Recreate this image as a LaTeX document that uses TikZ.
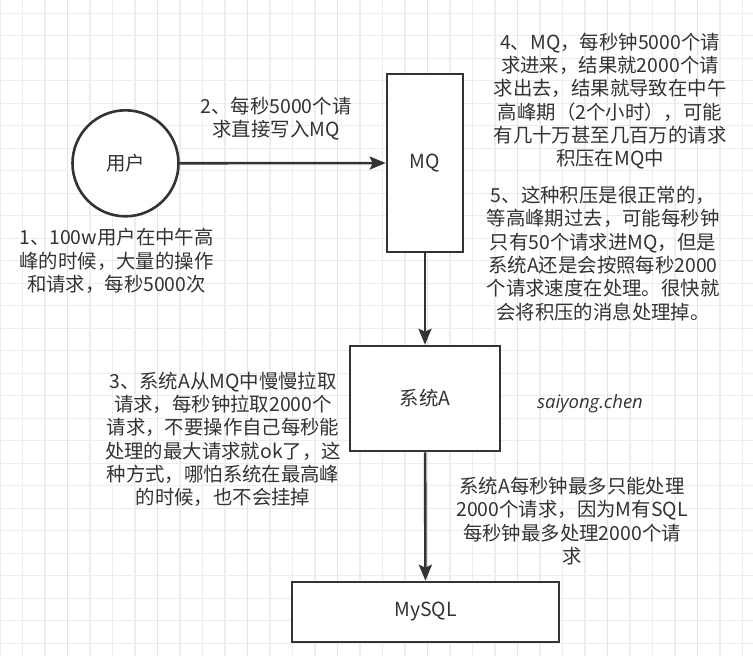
\documentclass[tikz,border=0pt]{standalone}
\usepackage{fontspec}
\setmainfont{Noto Sans CJK SC}
\newfontfamily\sigfont{Open Sans}
\usetikzlibrary{arrows.meta}
\definecolor{ink}{HTML}{333333}
\definecolor{gridc}{HTML}{EDEDED}
\definecolor{gridm}{HTML}{E4E4E4}
\tikzset{
  gridline/.style={draw=gridc, line width=1.2pt},
  gridmajor/.style={draw=gridm, line width=1.3pt},
  shapebox/.style={draw=ink, line width=2.6pt, fill=white, inner sep=0pt, text=ink,
    font=\fontsize{19.4}{23.3}\selectfont},
  flow/.style={draw=ink, line width=2.6pt, -{Stealth[length=16pt,width=13pt,inset=3pt]}},
  note/.style={inner sep=0pt, align=center, text=ink, font=\fontsize{19.4}{23.3}\selectfont},
}
\begin{document}
\begin{tikzpicture}[x=1pt,y=-1pt]
\useasboundingbox (0,0) rectangle (753,656);
\fill[white] (0,0) rectangle (753,656);
% grid
\foreach \i in {0,...,33} {\draw[gridline] (\i*22.5,0) -- (\i*22.5,656);}
\foreach \j in {0,...,28} {\draw[gridline] (0,13.3+\j*22.5) -- (753,13.3+\j*22.5);}
\foreach \i in {0,...,7} {\draw[gridmajor] (67.5+\i*90,0) -- (67.5+\i*90,656);}
% shapes
\node[shapebox, circle, minimum size=106pt] (user) at (125.5,163.3) {用户};
\node[shapebox, rectangle, minimum width=76pt, minimum height=178pt] (mq) at (425,163) {MQ};
\node[shapebox, rectangle, minimum width=150pt, minimum height=105pt] (sysa) at (425,398.5) {系统A};
\node[shapebox, rectangle, minimum width=267pt, minimum height=60pt] (mysql) at (425.5,612) {MySQL};
% connectors
\draw[flow] (user) -- (mq);
\draw[flow] (mq) -- (sysa);
\draw[flow] (sysa) -- (mysql);
% notes
\node[note] (n2) at (276,118.5) {2、每秒5000个请\\求直接写入MQ};
\node[note] (n1) at (116.5,261) {1、100w用户在中午高\\峰的时候，大量的操作\\和请求，每秒5000次};
\node[note] (n4) at (610,101) {4、MQ，每秒钟5000个请\\求进来，结果就2000个请\\求出去，结果就导致在中午\\高峰期（2个小时），可能\\有几十万甚至几百万的请求\\积压在MQ中};
\node[note] (n5) at (603,253.5) {5、这种积压是很正常的，\\等高峰期过去，可能每秒钟\\只有50个请求进MQ，但是\\系统A还是会按照每秒2000\\个请求速度在处理。很快就\\会将积压的消息处理掉。};
\node[note] (n3) at (223,439.4) {3、系统A从MQ中慢慢拉取\\请求，每秒钟拉取2000个\\请求，不要操作自己每秒能\\处理的最大请求就ok了，这\\种方式，哪怕系统在最高峰\\的时候，也不会挂掉};
\node[note] (n6) at (572,521) {系统A每秒钟最多只能处理\\2000个请求，因为M有SQL\\每秒钟最多处理2000个请\\求};
\node[note, font=\sigfont\itshape\fontsize{18.5}{22}\selectfont] (sig) at (590,404) {saiyong.chen};
\end{tikzpicture}
\end{document}
